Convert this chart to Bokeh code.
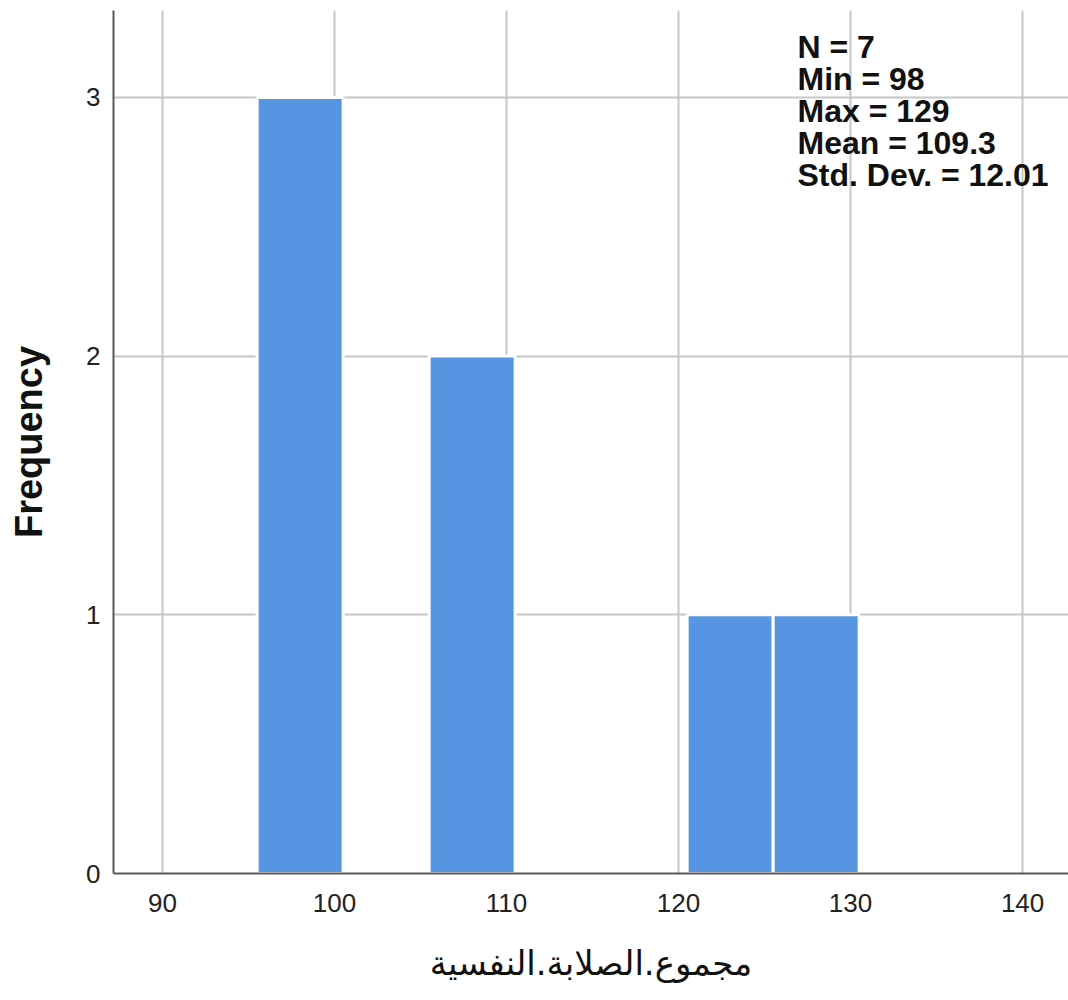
from bokeh.plotting import figure
from bokeh.models import Range1d, FixedTicker, Label
from bokeh.embed import file_html
from bokeh.resources import INLINE

# Data (histogram of مجموع.الصلابة.النفسية)
bin_lefts = [95.5, 105.5, 120.5, 125.5]
bin_rights = [100.5, 110.5, 125.5, 130.5]
counts = [3, 2, 1, 1]
x_ticks = [90, 100, 110, 120, 130, 140]
y_ticks = [0, 1, 2, 3]
stats_lines = ["N = 7", "Min = 98", "Max = 129", "Mean = 109.3", "Std. Dev. = 12.01"]
x_label = "مجموع.الصلابة.النفسية"
y_label = "Frequency"

p = figure(width=1068, height=1000, output_backend="svg", toolbar_location=None,
           x_range=Range1d(87.15, 142.67), y_range=Range1d(0, 3.336),
           min_border_left=113, min_border_right=0, min_border_top=10, min_border_bottom=127,
           background_fill_color="white", border_fill_color="white")
p.outline_line_color = None

p.quad(left=bin_lefts, right=bin_rights, top=counts, bottom=0,
       fill_color="#5595E2", line_color="white", line_width=3)

for ax in (p.xaxis[0], p.yaxis[0]):
    ax.axis_line_color = "#5a5a5a"
    ax.axis_line_width = 2
    ax.major_tick_line_color = None
    ax.minor_tick_line_color = None
    ax.major_tick_out = 0
    ax.major_tick_in = 0
    ax.minor_tick_out = 0
    ax.major_label_text_font = "Liberation Sans"
    ax.major_label_text_font_size = "26px"
    ax.major_label_text_color = "#222222"

p.xaxis.ticker = FixedTicker(ticks=x_ticks)
p.yaxis.ticker = FixedTicker(ticks=y_ticks)
p.xaxis.major_label_standoff = 20
p.yaxis.major_label_standoff = 13

p.xaxis.axis_label = x_label
p.xaxis.axis_label_text_font = "DejaVu Sans"
p.xaxis.axis_label_text_font_size = "34px"
p.xaxis.axis_label_text_font_style = "normal"
p.xaxis.axis_label_text_color = "#111111"
p.xaxis.axis_label_standoff = 28

p.yaxis.axis_label = y_label
p.yaxis.axis_label_text_font = "Liberation Sans"
p.yaxis.axis_label_text_font_size = "38px"
p.yaxis.axis_label_text_font_style = "bold"
p.yaxis.axis_label_text_color = "#111111"
p.yaxis.axis_label_standoff = 33

p.xgrid.ticker = FixedTicker(ticks=x_ticks)
p.ygrid.ticker = FixedTicker(ticks=y_ticks[1:])
for g in (p.xgrid[0], p.ygrid[0]):
    g.grid_line_color = "#c6c6c6"
    g.grid_line_width = 2

for i, s in enumerate(stats_lines):
    p.add_layout(Label(x=684, y=845 - 32 * i, x_units="screen", y_units="screen",
                       text=s, text_font="Liberation Sans", text_font_size="32px",
                       text_font_style="bold", text_color="#111111",
                       text_baseline="top", text_align="left"))

open("out.html", "w").write(file_html(p, INLINE))
